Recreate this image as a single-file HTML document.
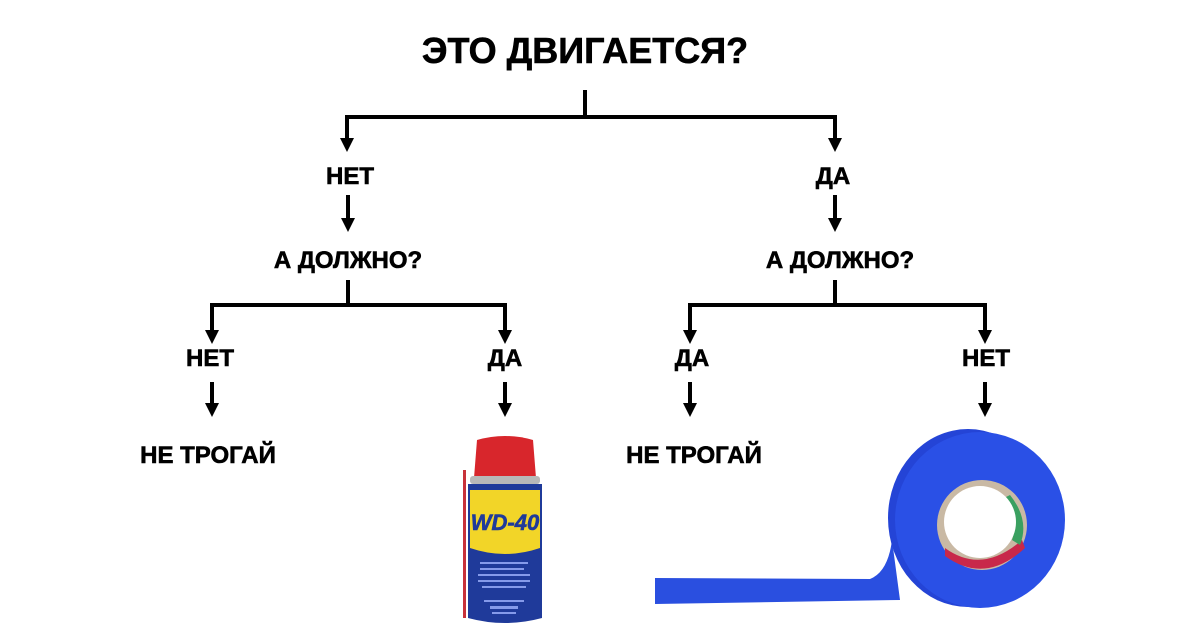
<!DOCTYPE html>
<html><head><meta charset="utf-8"><style>
html,body{margin:0;padding:0;background:#fff;}
svg{display:block;}
text{font-family:"Liberation Sans","DejaVu Sans",sans-serif;font-weight:bold;fill:#000;text-anchor:middle;stroke:#000;stroke-width:0.6;}
</style></head><body>
<svg width="1200" height="628" viewBox="0 0 1200 628" xmlns="http://www.w3.org/2000/svg">
<text x="585" y="63" font-size="36">ЭТО ДВИГАЕТСЯ?</text>
<g stroke="#000" stroke-width="4" fill="none">
<path d="M585,90 V117"/>
<path d="M347,117 H835"/>
<path d="M347,115 V140"/><path d="M835,115 V140"/>
<path d="M348,195 V220"/><path d="M835,195 V220"/>
<path d="M348,280 V305"/><path d="M835,280 V305"/>
<path d="M210,305 H505"/><path d="M688,305 H985"/>
<path d="M212,303 V332"/><path d="M505,303 V332"/>
<path d="M690,303 V332"/><path d="M985,303 V332"/>
<path d="M212,382 V405"/><path d="M505,382 V405"/>
<path d="M690,382 V405"/><path d="M985,382 V405"/>
</g>
<g fill="#000">
<path d="M340,138 h14 l-7,14z"/><path d="M828,138 h14 l-7,14z"/>
<path d="M341,218 h14 l-7,14z"/><path d="M828,218 h14 l-7,14z"/>
<path d="M205,330 h14 l-7,14z"/><path d="M498,330 h14 l-7,14z"/>
<path d="M683,330 h14 l-7,14z"/><path d="M978,330 h14 l-7,14z"/>
<path d="M205,403 h14 l-7,14z"/><path d="M498,403 h14 l-7,14z"/>
<path d="M683,403 h14 l-7,14z"/><path d="M978,403 h14 l-7,14z"/>
</g>
<g font-size="24">
<text x="350" y="184">НЕТ</text>
<text x="833" y="184">ДА</text>
<text x="348" y="268">А ДОЛЖНО?</text>
<text x="840" y="268">А ДОЛЖНО?</text>
<text x="210" y="366">НЕТ</text>
<text x="505" y="366">ДА</text>
<text x="692" y="366">ДА</text>
<text x="986" y="366">НЕТ</text>
<text x="208" y="463">НЕ ТРОГАЙ</text>
<text x="694" y="463">НЕ ТРОГАЙ</text>
</g>
<!-- WD-40 can -->
<rect x="463" y="470" width="3" height="148" fill="#c8323a"/>
<path d="M477,440 Q505,432 533,440 L536,478 L474,478 Z" fill="#d8262c"/>
<rect x="470" y="476" width="70" height="8" rx="3" fill="#b8b8b8"/>
<path d="M468,484 H542 V618 Q505,628 468,618 Z" fill="#1f3a9a"/>
<path d="M470,490 H540 V548 Q505,560 470,548 Z" fill="#f2d528"/>
<text x="505" y="530" font-size="22" style="fill:#1f3a9a;stroke:#1f3a9a;font-style:italic">WD-40</text>
<g fill="#9fb2ff" opacity="0.8">
<rect x="480" y="562" width="48" height="2"/><rect x="480" y="568" width="44" height="2"/>
<rect x="478" y="574" width="52" height="2"/><rect x="478" y="580" width="52" height="2"/>
<rect x="482" y="586" width="44" height="2"/><rect x="484" y="600" width="40" height="2"/>
<rect x="490" y="606" width="28" height="3"/><rect x="492" y="612" width="24" height="2"/>
</g>
<!-- tape -->
<path d="M655,578 L870,579 Q888,572 892,540 L900,600 L655,604 Z" fill="#2a4fe0"/>
<ellipse cx="968" cy="518" rx="80" ry="89" fill="#2444d6"/>
<ellipse cx="980" cy="520" rx="85" ry="88" fill="#2a50e6"/>
<circle cx="982" cy="525" r="45" fill="#c9b9a4"/>
<path d="M945,548 Q982,575 1022,540 L1025,548 Q985,585 945,556 Z" fill="#c8284a"/>
<path d="M1010,495 Q1030,520 1020,545 L1012,540 Q1020,515 1004,498 Z" fill="#3aa060"/>
<circle cx="980" cy="522" r="36" fill="#fff"/>
</svg>
</body></html>
